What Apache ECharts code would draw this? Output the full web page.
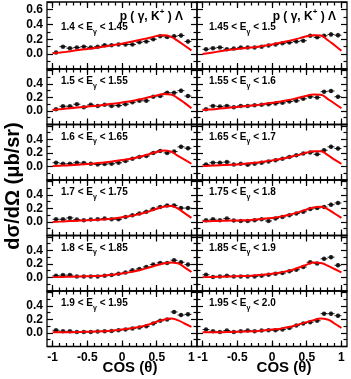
<!DOCTYPE html>
<html>
<head>
<meta charset="utf-8">
<script src="https://cdn.jsdelivr.net/npm/echarts@6.0.0/dist/echarts.min.js"></script>
<style>
  html, body { margin: 0; padding: 0; background: #fff; }
  #chart { width: 351px; height: 379px; }
</style>
</head>
<body>
<div id="chart"></div>
<script>
// cos(theta) bin centres and the points where the model curve is sampled
const cosBins = [-0.95, -0.85, -0.75, -0.65, -0.55, -0.45, -0.35, -0.25, -0.15, -0.05,
  0.05, 0.15, 0.25, 0.35, 0.45, 0.55, 0.65, 0.75, 0.85, 0.95];
const fitCos = [-1.0, -0.9, -0.8, -0.7, -0.6, -0.5, -0.4, -0.3, -0.2, -0.1, 0.0,
  0.1, 0.2, 0.3, 0.4, 0.5, 0.6, 0.7, 0.8, 0.9, 1.0];
const cosTicks = [-1, -0.5, 0, 0.5, 1];
const cosMinorTicks = [-1.0, -0.9, -0.8, -0.7, -0.6, -0.5, -0.4, -0.3, -0.2, -0.1, 0.0,
  0.1, 0.2, 0.3, 0.4, 0.5, 0.6, 0.7, 0.8, 0.9, 1.0];
const yTickLabels = [0.0, 0.2, 0.4, 0.6];

// measured dsigma/dOmega (ub/sr), one array per photon energy bin
const xs_140 = [0.02, 0.10, 0.08, 0.09, 0.10, 0.09, 0.10, 0.12, 0.12, 0.13, 0.13, 0.13, 0.16, 0.17, 0.20, 0.24, 0.23, 0.24, 0.25, 0.17];
const xs_145 = [0.065, 0.08, 0.09, 0.065, 0.075, 0.09, 0.09, 0.09, 0.10, 0.115, 0.13, 0.145, 0.155, 0.17, 0.18, 0.245, 0.225, 0.245, 0.265, 0.255];
const xs_150 = [0.025, 0.07, 0.07, 0.10, 0.055, 0.09, 0.075, 0.09, 0.075, 0.08, 0.10, 0.13, 0.15, 0.15, 0.21, 0.22, 0.27, 0.27, 0.30, 0.22];
const xs_155 = [0.025, 0.075, 0.065, 0.075, 0.055, 0.075, 0.075, 0.085, 0.09, 0.10, 0.11, 0.12, 0.14, 0.15, 0.18, 0.21, 0.20, 0.285, 0.295, 0.21];
const xs_160 = [0.055, 0.04, 0.04, 0.055, 0.05, 0.04, 0.03, 0.035, 0.04, 0.055, 0.08, 0.115, 0.14, 0.155, 0.20, 0.23, 0.20, 0.22, 0.29, 0.27];
const xs_165 = [0.03, 0.055, 0.055, 0.065, 0.03, 0.04, 0.025, 0.04, 0.055, 0.075, 0.09, 0.115, 0.14, 0.165, 0.19, 0.205, 0.18, 0.24, 0.29, 0.265];
const xs_170 = [0.04, 0.04, 0.06, 0.035, 0.025, 0.035, 0.04, 0.05, 0.04, 0.04, 0.075, 0.10, 0.125, 0.15, 0.19, 0.22, 0.245, 0.245, 0.205, 0.205];
const xs_175 = [0.025, 0.04, 0.025, 0.05, 0.02, 0.015, 0.015, 0.025, 0.04, 0.015, 0.05, 0.075, 0.10, 0.125, 0.15, 0.19, 0.205, 0.22, 0.255, 0.28];
const xs_180 = [0.025, 0.035, 0.035, 0.015, 0.015, 0.015, 0.015, 0.025, 0.035, 0.055, 0.075, 0.105, 0.125, 0.155, 0.19, 0.215, 0.215, 0.255, 0.225, 0.19];
const xs_185 = [0.04, 0.007, 0.015, 0.025, 0.015, 0.015, 0.015, 0.015, 0.025, 0.04, 0.055, 0.065, 0.09, 0.115, 0.155, 0.225, 0.205, 0.275, 0.30, 0.18];
const xs_190 = [0.04, 0.025, 0.025, 0.015, 0.015, 0.015, 0.02, 0.025, 0.03, 0.04, 0.05, 0.065, 0.08, 0.10, 0.14, 0.18, 0.20, 0.31, 0.265, 0.275];
const xs_195 = [0.05, 0.025, 0.015, 0.035, 0.015, 0.025, 0.035, 0.025, 0.035, 0.04, 0.04, 0.05, 0.075, 0.11, 0.14, 0.16, 0.18, 0.285, 0.285, 0.255];
// typical statistical error per bin
const yErr = [0.02, 0.015, 0.015, 0.015, 0.015, 0.015, 0.015, 0.015, 0.015, 0.015,
  0.015, 0.015, 0.015, 0.02, 0.02, 0.02, 0.02, 0.025, 0.03, 0.03];

// model curves (red)
const fit_140 = [0.01, 0.02, 0.03, 0.045, 0.06, 0.07, 0.08, 0.095, 0.11, 0.125, 0.14, 0.16, 0.18, 0.20, 0.22, 0.245, 0.255, 0.235, 0.18, 0.115, 0.05];
const fit_145 = [0.0, 0.015, 0.03, 0.045, 0.06, 0.07, 0.08, 0.09, 0.10, 0.115, 0.13, 0.15, 0.17, 0.19, 0.215, 0.24, 0.255, 0.25, 0.19, 0.12, 0.045];
const fit_150 = [0.015, 0.025, 0.035, 0.045, 0.055, 0.065, 0.075, 0.085, 0.10, 0.11, 0.125, 0.14, 0.16, 0.18, 0.205, 0.23, 0.25, 0.245, 0.19, 0.12, 0.04];
const fit_155 = [0.015, 0.02, 0.03, 0.04, 0.05, 0.06, 0.07, 0.08, 0.09, 0.105, 0.12, 0.135, 0.155, 0.175, 0.20, 0.225, 0.245, 0.24, 0.18, 0.11, 0.04];
const fit_160 = [0.005, 0.01, 0.015, 0.02, 0.03, 0.035, 0.045, 0.055, 0.065, 0.08, 0.095, 0.11, 0.13, 0.155, 0.185, 0.215, 0.235, 0.22, 0.16, 0.10, 0.04];
const fit_165 = [0.005, 0.01, 0.015, 0.02, 0.025, 0.03, 0.04, 0.05, 0.06, 0.075, 0.09, 0.105, 0.125, 0.15, 0.175, 0.205, 0.225, 0.225, 0.17, 0.10, 0.04];
const fit_170 = [0.0, 0.005, 0.01, 0.015, 0.02, 0.025, 0.03, 0.035, 0.045, 0.055, 0.07, 0.085, 0.105, 0.13, 0.16, 0.195, 0.225, 0.235, 0.20, 0.13, 0.06];
const fit_175 = [0.01, 0.012, 0.015, 0.018, 0.02, 0.022, 0.025, 0.03, 0.04, 0.05, 0.06, 0.075, 0.095, 0.12, 0.15, 0.185, 0.215, 0.225, 0.19, 0.125, 0.06];
const fit_180 = [0.005, 0.007, 0.01, 0.012, 0.015, 0.018, 0.02, 0.025, 0.035, 0.045, 0.06, 0.075, 0.095, 0.12, 0.15, 0.18, 0.205, 0.22, 0.21, 0.15, 0.08];
const fit_185 = [0.005, 0.007, 0.01, 0.012, 0.015, 0.018, 0.022, 0.027, 0.035, 0.045, 0.055, 0.07, 0.09, 0.115, 0.15, 0.19, 0.22, 0.215, 0.175, 0.125, 0.075];
const fit_190 = [0.01, 0.01, 0.01, 0.012, 0.015, 0.018, 0.02, 0.025, 0.03, 0.04, 0.05, 0.065, 0.08, 0.10, 0.13, 0.165, 0.195, 0.215, 0.19, 0.14, 0.09];
const fit_195 = [0.01, 0.01, 0.01, 0.012, 0.015, 0.018, 0.02, 0.025, 0.03, 0.04, 0.05, 0.06, 0.08, 0.10, 0.13, 0.16, 0.19, 0.215, 0.20, 0.14, 0.075];

// energy bin labels, in reading order (left, right, left, right ...)
const energyLo = ['1.4', '1.45', '1.5', '1.55', '1.6', '1.65', '1.7', '1.75', '1.8', '1.85', '1.9', '1.95'];
const energyHi = ['1.45', '1.5', '1.55', '1.6', '1.65', '1.7', '1.75', '1.8', '1.85', '1.9', '1.95', '2.0'];
const measured = [xs_140, xs_145, xs_150, xs_155, xs_160, xs_165, xs_170, xs_175, xs_180, xs_185, xs_190, xs_195];
const curves = [fit_140, fit_145, fit_150, fit_155, fit_160, fit_165, fit_170, fit_175, fit_180, fit_185, fit_190, fit_195];

const FONT = '"Liberation Sans", Arial, sans-serif';
const colLeft = [47, 197];
const colWidth = 150;
const rowTop = [2, 69, 124.5, 180, 235.5, 291];
const rowHeight = [67, 55.5, 55.5, 55.5, 55.5, 55.5];

const chart = echarts.init(document.getElementById('chart'));

const grid = [], xAxis = [], yAxis = [], series = [], graphic = [];
const tickStyle = { color: '#000', width: 1.2 };
const noLine = { show: false, onZero: false };

measured.forEach((vals, i) => {
  const row = Math.floor(i / 2), col = i % 2;
  grid.push({
    left: colLeft[col], top: rowTop[row], width: colWidth, height: rowHeight[row],
    show: true, borderColor: '#000', borderWidth: 1.3, backgroundColor: 'transparent'
  });

  // 4 x axes per panel: bottom major, bottom minor, top major, top minor
  ['bottom', 'top'].forEach(pos => {
    xAxis.push({
      gridIndex: i, type: 'value', min: -1.08, max: 1.08, position: pos,
      axisLine: noLine, splitLine: { show: false },
      axisTick: { show: true, inside: true, length: 6, customValues: cosTicks, lineStyle: tickStyle },
      axisLabel: {
        show: pos === 'bottom' && row === 5, customValues: cosTicks, margin: 5,
        color: '#000', fontFamily: FONT, fontWeight: 'bold', fontSize: 12,
        formatter: v => String(v)
      }
    });
    xAxis.push({
      gridIndex: i, type: 'value', min: -1.08, max: 1.08, position: pos,
      axisLine: noLine, splitLine: { show: false }, axisLabel: { show: false },
      axisTick: { show: true, inside: true, length: 3.5, customValues: cosMinorTicks, lineStyle: tickStyle }
    });
  });

  // left axis with labels, right axis mirrored ticks
  ['left', 'right'].forEach(pos => {
    yAxis.push({
      gridIndex: i, type: 'value', min: -0.2, max: row === 0 ? 0.7 : 0.62, interval: 0.2, position: pos,
      axisLine: noLine, splitLine: { show: false },
      axisTick: { show: true, inside: true, length: 6, lineStyle: tickStyle },
      minorTick: { show: true, splitNumber: 2, length: 3.5, lineStyle: tickStyle },
      axisLabel: {
        show: pos === 'left' && col === 0, margin: 4,
        color: '#000', fontFamily: FONT, fontWeight: 'bold', fontSize: 12,
        formatter: v => {
          const hit = yTickLabels.some(t => Math.abs(t - v) < 1e-6 && (t < 0.5 || row === 0));
          return hit ? v.toFixed(1) : '';
        }
      }
    });
  });

  const xi = 4 * i, yi = 2 * i;
  series.push({
    type: 'custom', xAxisIndex: xi, yAxisIndex: yi, silent: true, z: 2,
    data: cosBins.map((c, k) => [c, vals[k], yErr[k]]),
    renderItem: (params, api) => {
      const x = api.value(0), y = api.value(1), e = api.value(2);
      const l = api.coord([x - 0.05, y]), r = api.coord([x + 0.05, y]);
      const t = api.coord([x, y + e]), b = api.coord([x, y - e]);
      const st = { stroke: '#222', lineWidth: 1 };
      return {
        type: 'group', children: [
          { type: 'line', shape: { x1: l[0], y1: l[1], x2: r[0], y2: r[1] }, style: st },
          { type: 'line', shape: { x1: t[0], y1: t[1], x2: b[0], y2: b[1] }, style: st }
        ]
      };
    }
  });
  series.push({
    type: 'scatter', xAxisIndex: xi, yAxisIndex: yi, z: 3, silent: true,
    symbol: 'circle', symbolSize: 4.5, itemStyle: { color: '#000' },
    data: cosBins.map((c, k) => [c, vals[k]])
  });
  series.push({
    type: 'line', xAxisIndex: xi, yAxisIndex: yi, z: 4, silent: true,
    smooth: true, showSymbol: false, symbol: 'none',
    lineStyle: { color: '#f00', width: 2 },
    data: fitCos.map((c, k) => [c, curves[i][k]])
  });

  // energy bin label
  graphic.push({
    type: 'text', x: colLeft[col] + (col === 0 ? 14 : 12), y: row === 0 ? 29 : rowTop[row] + 14,
    style: {
      text: `{n|${energyLo[i]} < E}{s|γ}{n| < ${energyHi[i]}}`,
      verticalAlign: 'middle', align: 'left',
      rich: {
        n: { fontFamily: FONT, fontWeight: 'bold', fontSize: 10, fill: '#000', lineHeight: 13, verticalAlign: 'top' },
        s: { fontFamily: FONT, fontWeight: 'bold', fontSize: 7, fill: '#000', lineHeight: 7, verticalAlign: 'bottom' }
      }
    }
  });
});

// reaction title in the two top panels
[0, 1].forEach(col => {
  graphic.push({
    type: 'text', x: colLeft[col] + colWidth - (col === 0 ? 14 : 11), y: 15,
    style: {
      text: '{n|p ( γ, K}{u|+}{n| ) Λ}',
      align: 'right', verticalAlign: 'middle',
      rich: {
        n: { fontFamily: FONT, fontWeight: 'bold', fontSize: 12, fill: '#000', lineHeight: 15, verticalAlign: 'bottom' },
        u: { fontFamily: FONT, fontWeight: 'bold', fontSize: 8, fill: '#000', lineHeight: 8, verticalAlign: 'top' }
      }
    }
  });
  graphic.push({
    type: 'text', x: col === 0 ? 130 : 284, y: 368,
    style: {
      text: 'COS (θ)', align: 'center', verticalAlign: 'middle',
      font: 'bold 15px "Liberation Sans", Arial, sans-serif', fill: '#000'
    }
  });
});

graphic.push({
  type: 'text', x: 13, y: 186, rotation: Math.PI / 2,
  style: {
    text: 'dσ/dΩ (μb/sr)', align: 'center', verticalAlign: 'middle',
    font: 'bold 20px "Liberation Sans", Arial, sans-serif', fill: '#000'
  }
});

const option = {
  animation: false,
  backgroundColor: '#fff',
  grid, xAxis, yAxis, series, graphic
};

chart.setOption(option);

window.addEventListener('resize', () => {
  chart.resize();
});
</script>
</body>
</html>
